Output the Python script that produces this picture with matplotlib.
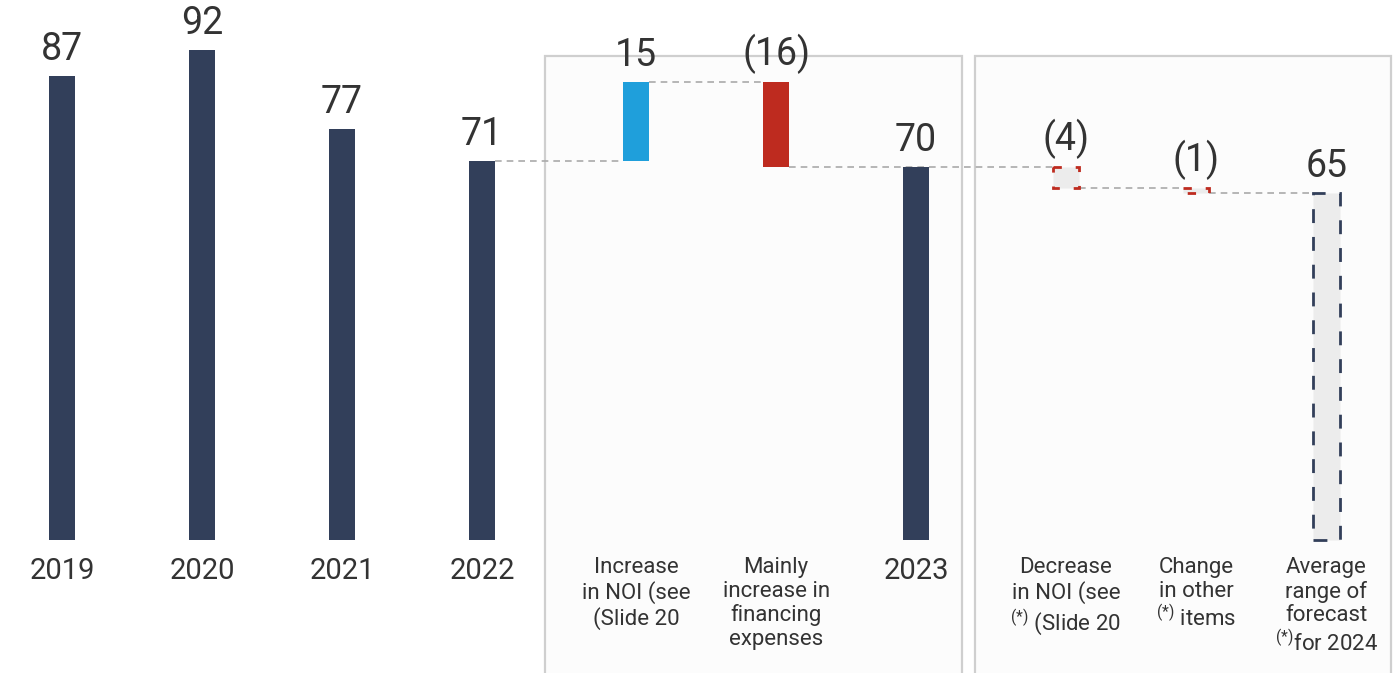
import matplotlib.pyplot as plt
from matplotlib.patches import Rectangle

plt.rcParams["font.family"] = ["Roboto", "DejaVu Sans"]
plt.rcParams["mathtext.fontset"] = "custom"
plt.rcParams["mathtext.rm"] = "Roboto"
plt.rcParams["mathtext.it"] = "Roboto"

# FFO history, bridge to 2023, then bridge to 2024 forecast
years = ["2019", "2020", "2021", "2022"]
year_values = [87, 92, 77, 71]

bridge_23_labels = ["Increase\nin NOI (see\n(Slide 20",
                    "Mainly\nincrease in\nfinancing\nexpenses"]
bridge_23_deltas = [15, -16]
value_2023 = 70

bridge_24_labels = ["Decrease\nin NOI (see\n${}^{(*)}$ (Slide 20",
                    "Change\nin other\n${}^{(*)}$ items"]
bridge_24_deltas = [-4, -1]
forecast_label = "Average\nrange of\nforecast\n${}^{(*)}$for 2024"
forecast_value = 65

NAVY = "#323f5a"
BLUE = "#1f9fdb"
RED = "#be2b1f"
TEXT = "#333333"
GRID = "#aaaaaa"
W = 0.19
STEP_24 = 0.93  # right-hand panel is a little tighter


def fmt(v):
    return f"({abs(v)})" if v < 0 else f"{v}"


def connector(x0, x1, y):
    ax.plot([x0 + W / 2, x1 - W / 2], [y, y], ls=(0, (4, 3)), color=GRID, lw=1.2, zorder=2)


fig = plt.figure(figsize=(13.95, 6.73), dpi=100)
ax = fig.add_axes([0, 0, 1, 1])
ax.set_xlim(-0.443, 9.52)
ax.set_ylim(-25, 101.3)
ax.axis("off")

# panel boxes behind the bridges
for x0, x1 in [(3.45, 6.43), (6.52, 9.49)]:
    ax.add_patch(Rectangle((x0, -40), x1 - x0, 90.8 + 40, facecolor="#fcfcfc",
                           edgecolor="#cfcfcf", lw=1.6, zorder=0))

val_kw = dict(ha="center", va="bottom", fontsize=27, color=TEXT)
cat_kw = dict(ha="center", va="top", color=TEXT)
small_kw = dict(fontsize=16, linespacing=1.15, **cat_kw)

# history bars
for i, (lab, v) in enumerate(zip(years, year_values)):
    ax.bar(i, v, width=W, color=NAVY, zorder=3)
    ax.text(i, v + 1.5, fmt(v), **val_kw)
    ax.text(i, -3.3, lab, fontsize=21, **cat_kw)

# bridge to 2023
level = year_values[-1]
prev_x = len(years) - 1
for j, (lab, d) in enumerate(zip(bridge_23_labels, bridge_23_deltas)):
    x = len(years) + j + 0.1
    connector(prev_x, x, level)
    ax.bar(x, d, bottom=level, width=W, color=BLUE if d > 0 else RED, zorder=3)
    ax.text(x, max(level, level + d) + 1.5, fmt(d), **val_kw)
    ax.text(x, -3.3, lab, **small_kw)
    level += d
    prev_x = x

x23 = len(years) + len(bridge_23_deltas) + 0.1
ax.bar(x23, value_2023, width=W, color=NAVY, zorder=3)
ax.text(x23, value_2023 + 1.5, fmt(value_2023), **val_kw)
ax.text(x23, -3.3, "2023", fontsize=21, **cat_kw)

# bridge to 2024 forecast
level = value_2023
for j, (lab, d) in enumerate(zip(bridge_24_labels, bridge_24_deltas)):
    x = x23 + 1.07 + STEP_24 * j
    connector(prev_x, x, level)
    ax.bar(x, d, bottom=level, width=W, facecolor="#ececec", edgecolor=RED,
           lw=2, ls=(0, (3, 5)), zorder=3)
    ax.text(x, level + 1.5, fmt(d), **val_kw)
    ax.text(x, -3.3, lab, **small_kw)
    level += d
    prev_x = x

xf = prev_x + STEP_24
connector(prev_x, xf, level)
ax.bar(xf, forecast_value, width=W, facecolor="#ececec", edgecolor=NAVY,
       lw=2, ls=(0, (5, 5)), zorder=3)
ax.text(xf, forecast_value + 1.5, fmt(forecast_value), **val_kw)
ax.text(xf, -3.3, forecast_label, **small_kw)

fig.savefig("out.png", dpi=100)
